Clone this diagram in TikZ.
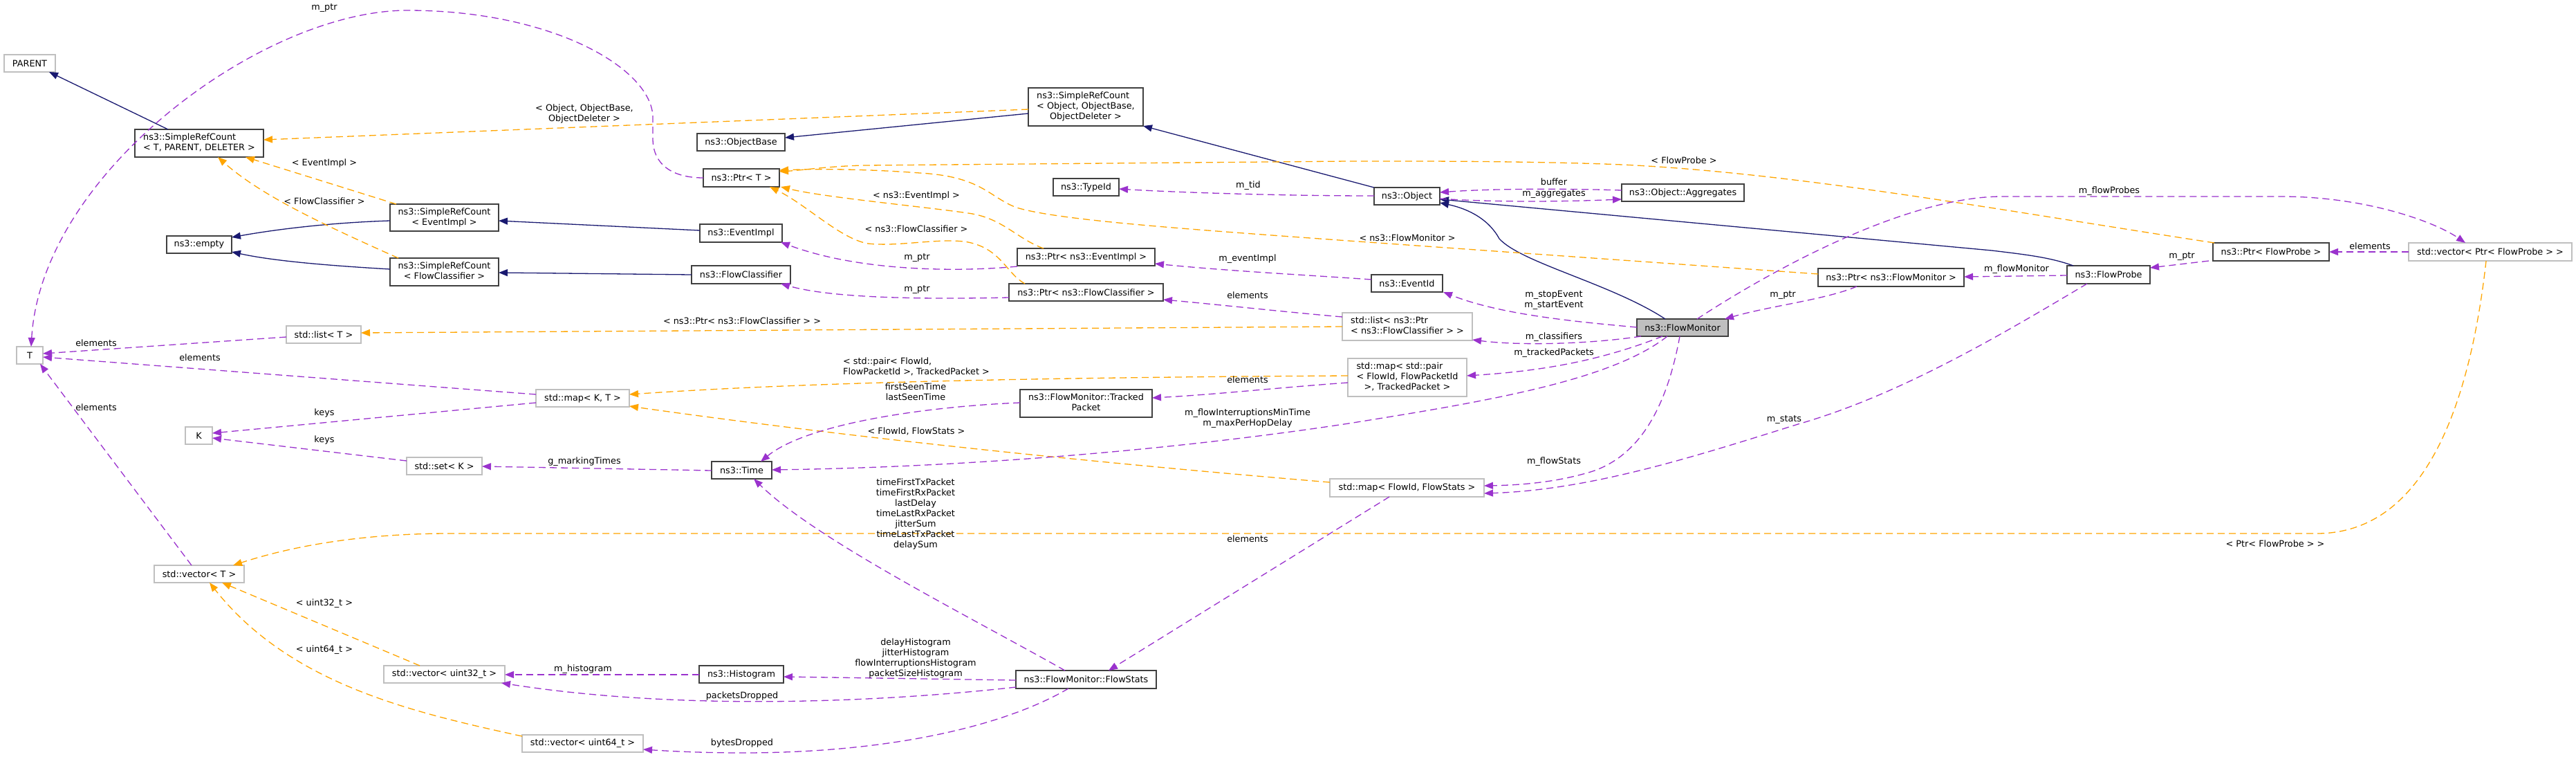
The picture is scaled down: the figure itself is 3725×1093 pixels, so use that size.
\documentclass[tikz,border=0pt]{standalone}
\usepackage{fontspec}
\setmainfont{DejaVu Sans}
\usetikzlibrary{arrows.meta,calc}
\definecolor{navy}{HTML}{191970}
\definecolor{orng}{HTML}{FFA500}
\definecolor{purp}{HTML}{9A32CD}
\definecolor{gbord}{HTML}{BFBFBF}
\definecolor{bbord}{HTML}{404040}
\definecolor{fmfill}{HTML}{BFBFBF}
\newcommand\twol[2]{\begin{tabular}{@{}l@{}}#1\\\multicolumn{1}{@{}c@{}}{#2}\end{tabular}}
\newcommand\threel[3]{\begin{tabular}{@{}l@{}}#1\\#2\\\multicolumn{1}{@{}c@{}}{#3}\end{tabular}}
\begin{document}
\begin{tikzpicture}[x=1pt,y=-1pt,
  every node/.style={font=\fontsize{12.8}{15}\selectfont, inner sep=0pt, outer sep=0pt},
  cls/.style={draw=bbord, line width=1.6pt, fill=white, rectangle, align=center},
  ext/.style={draw=gbord, line width=1.4pt, fill=white, rectangle, align=center},
  lbl/.style={align=center},
  tip/.style={-{Triangle[length=13pt,width=10pt]}},
  inh/.style={draw=navy, line width=1.3pt, tip, fill=none},
  tmpl/.style={draw=orng, line width=1.3pt, dash pattern=on 10pt off 6pt, tip},
  use/.style={draw=purp, line width=1.3pt, dash pattern=on 10pt off 6pt, tip},
]
\useasboundingbox (0,0) rectangle (3725,1093);

% ---------- nodes ----------
\node[ext, minimum width=74pt, minimum height=25pt] (PARENT) at (43,91.5) {PARENT};
\node[cls, minimum width=186pt, minimum height=40pt] (srcT) at (288,207) {\twol{ns3::SimpleRefCount}{< T, PARENT, DELETER >}};
\node[cls, minimum width=157pt, minimum height=39pt] (srcEI) at (642.5,314.5) {\twol{ns3::SimpleRefCount}{< EventImpl >}};
\node[cls, minimum width=94pt, minimum height=25pt] (empty) at (288,353.5) {ns3::empty};
\node[cls, minimum width=157pt, minimum height=40pt] (srcFC) at (642.5,393) {\twol{ns3::SimpleRefCount}{< FlowClassifier >}};
\node[ext, minimum width=38pt, minimum height=25pt] (T) at (43,513.5) {T};
\node[ext, minimum width=108pt, minimum height=25pt] (listT) at (468,483.5) {std::list< T >};
\node[ext, minimum width=39pt, minimum height=25pt] (K) at (287.5,629.5) {K};
\node[ext, minimum width=109pt, minimum height=25pt] (setK) at (642.5,673.5) {std::set< K >};
\node[ext, minimum width=130pt, minimum height=25pt] (vecT) at (288,829.5) {std::vector< T >};
\node[ext, minimum width=175pt, minimum height=25pt] (vec32) at (642.5,974.5) {std::vector< uint32\_t >};
\node[ext, minimum width=175pt, minimum height=25pt] (vec64) at (842.5,1074.5) {std::vector< uint64\_t >};
\node[cls, minimum width=127pt, minimum height=25pt] (ObjBase) at (1071.5,205.5) {ns3::ObjectBase};
\node[cls, minimum width=110pt, minimum height=26pt] (PtrT) at (1072,257) {ns3::Ptr< T >};
\node[cls, minimum width=119pt, minimum height=26pt] (EvImpl) at (1071.5,337) {ns3::EventImpl};
\node[cls, minimum width=143pt, minimum height=26pt] (FC) at (1071.5,397) {ns3::FlowClassifier};
\node[ext, minimum width=135pt, minimum height=25pt] (mapKT) at (842.5,575.5) {std::map< K, T >};
\node[cls, minimum width=87pt, minimum height=25pt] (Time) at (1072.5,679.5) {ns3::Time};
\node[cls, minimum width=122pt, minimum height=25pt] (Hist) at (1072,974.5) {ns3::Histogram};
\node[cls, minimum width=166pt, minimum height=55pt] (srcObj) at (1570,154.5) {\threel{ns3::SimpleRefCount}{< Object, ObjectBase,}{ObjectDeleter >}};
\node[cls, minimum width=95pt, minimum height=25pt] (TypeId) at (1570.5,270.5) {ns3::TypeId};
\node[cls, minimum width=199pt, minimum height=25pt] (PtrEI) at (1570.5,371.5) {ns3::Ptr< ns3::EventImpl >};
\node[cls, minimum width=223pt, minimum height=25pt] (PtrFC) at (1570.5,422.5) {ns3::Ptr< ns3::FlowClassifier >};
\node[cls, minimum width=191pt, minimum height=40pt] (TP) at (1570.5,583) {\twol{ns3::FlowMonitor::Tracked}{Packet}};
\node[cls, minimum width=203pt, minimum height=26pt] (FS) at (1570.5,982) {ns3::FlowMonitor::FlowStats};
\node[cls, minimum width=95pt, minimum height=25pt] (Obj) at (2034.5,283.5) {ns3::Object};
\node[cls, minimum width=177pt, minimum height=25pt] (Aggr) at (2433.5,278.5) {ns3::Object::Aggregates};
\node[cls, minimum width=103pt, minimum height=25pt] (EvId) at (2034.5,409.5) {ns3::EventId};
\node[ext, minimum width=188pt, minimum height=40pt] (listPFC) at (2035,472) {\twol{std::list< ns3::Ptr}{< ns3::FlowClassifier > >}};
\node[ext, minimum width=172pt, minimum height=55pt] (mapPair) at (2035,545.5) {\threel{std::map< std::pair}{< FlowId, FlowPacketId}{>, TrackedPacket >}};
\node[ext, minimum width=223pt, minimum height=26pt] (mapFS) at (2034.5,705) {std::map< FlowId, FlowStats >};
\node[cls, fill=fmfill, minimum width=132pt, minimum height=25pt] (FM) at (2433,473.5) {ns3::FlowMonitor};
\node[cls, minimum width=211pt, minimum height=26pt] (PtrFM) at (2734.5,401) {ns3::Ptr< ns3::FlowMonitor >};
\node[cls, minimum width=120pt, minimum height=26pt] (FP) at (3049,397) {ns3::FlowProbe};
\node[cls, minimum width=168pt, minimum height=26pt] (PtrFP) at (3284,364) {ns3::Ptr< FlowProbe >};
\node[ext, minimum width=236pt, minimum height=26pt] (vecPFP) at (3601,364) {std::vector< Ptr< FlowProbe > >};

% ---------- inheritance ----------
\draw[inh] (243,0 |- srcT.north) -- (71,0 |- PARENT.south);
\draw[inh] (srcEI.west |- 0,319) .. controls (470,322) and (390,333) .. (empty.east |- 0,343);
\draw[inh] (srcFC.west |- 0,389) .. controls (460,383) and (390,376) .. (empty.east |- 0,364);
\draw[inh] (EvImpl.west |- 0,333) -- (srcEI.east |- 0,319);
\draw[inh] (FC.west |- 0,397) -- (srcFC.east |- 0,394);
\draw[inh] (srcObj.west |- 0,164) -- (ObjBase.east |- 0,199);
\draw[inh] (Obj.north west) -- (srcObj.south east);
\draw[inh] (2408,0 |- FM.north) .. controls (2330,410) and (2200,380) .. (2168,345) .. controls (2150,312) and (2115,300) .. (Obj.east |- 0,293);
\draw[inh] (2998,0 |- FP.north) .. controls (2965,372) and (2930,368) .. (2880,362) -- (Obj.east |- 0,288);

% ---------- template instances ----------
\draw[tmpl] (srcObj.west |- 0,158) -- (srcT.east |- 0,202);
\draw[tmpl] (573,0 |- srcEI.north) -- (355,0 |- srcT.south);
\draw[tmpl] (576,0 |- srcFC.north) .. controls (480,330) and (380,285) .. (315,0 |- srcT.south);
\draw[tmpl] (1509,0 |- PtrEI.north) .. controls (1470,345) and (1450,315) .. (1400,308) .. controls (1330,298) and (1190,285) .. (1129,0 |- PtrT.south);
\draw[tmpl] (1482,0 |- PtrFC.north) .. controls (1455,395) and (1448,360) .. (1400,350) .. controls (1360,343) and (1300,357) .. (1255,352) .. controls (1215,345) and (1165,295) .. (1113,0 |- PtrT.south);
\draw[tmpl] (PtrFM.west |- 0,396) -- (1950,348) .. controls (1700,330) and (1530,318) .. (1470,300) .. controls (1430,285) and (1420,255) .. (1330,250) .. controls (1250,244) and (1180,244) .. (PtrT.east |- 0,246);
\draw[tmpl] (3202,0 |- PtrFP.north) .. controls (2900,305) and (2600,250) .. (2346,238) .. controls (2200,232) and (2000,233) .. (1950,233) -- (1250,239) .. controls (1200,240) and (1160,246) .. (PtrT.east |- 0,248);
\draw[tmpl] (listPFC.west |- 0,472) -- (listT.east |- 0,481);
\draw[tmpl] (mapPair.west |- 0,543) .. controls (1600,545) and (1200,550) .. (mapKT.east |- 0,570);
\draw[tmpl] (mapFS.west |- 0,697) .. controls (1600,670) and (1250,635) .. (mapKT.east |- 0,587);
\draw[tmpl] (607,0 |- vec32.north) -- (321,0 |- vecT.south);
\draw[tmpl] (vec64.west |- 0,1064) .. controls (600,1030) and (420,990) .. (303,0 |- vecT.south);
\draw[tmpl] (3595,0 |- vecPFP.south) .. controls (3570,600) and (3500,771) .. (3350,771) -- (650,771) .. controls (520,771) and (420,790) .. (337,0 |- vecT.north);

% ---------- usage ----------
\draw[use] (PtrT.west) .. controls (975,257) and (944,240) .. (944,200) -- (944,170) .. controls (944,100) and (800,15) .. (589,15) .. controls (380,15) and (60,250) .. (45,0 |- T.north);
\draw[use] (listT.west |- 0,487) -- (T.east |- 0,511);
\draw[use] (mapKT.west |- 0,570) -- (T.east |- 0,516);
\draw[use] (277,0 |- vecT.north) -- (58,0 |- T.south);
\draw[use] (mapKT.west |- 0,582) -- (K.east |- 0,626);
\draw[use] (setK.west |- 0,666) -- (K.east |- 0,633);
\draw[use] (Time.west |- 0,680) -- (setK.east |- 0,674);
\draw[use] (PtrEI.west |- 0,385) .. controls (1400,392) and (1250,395) .. (1129,0 |- EvImpl.south);
\draw[use] (PtrFC.west |- 0,430) .. controls (1320,433) and (1200,430) .. (1129,0 |- FC.south);
\draw[use] (TP.west |- 0,582) .. controls (1350,587) and (1170,610) .. (1100,0 |- Time.north);
\draw[use] (2411,0 |- FM.south) .. controls (2330,550) and (2150,580) .. (1950,612) .. controls (1700,650) and (1400,675) .. (Time.east |- 0,679);
\draw[use] (1540,0 |- FS.north) .. controls (1400,890) and (1180,780) .. (1090,0 |- Time.south);
\draw[use] (FS.west |- 0,983) -- (Hist.east |- 0,978);
\draw[use] (FS.west |- 0,993) .. controls (1300,1012) and (1000,1030) .. (725,0 |- vec32.south);
\draw[use] (1545,0 |- FS.south) .. controls (1460,1045) and (1300,1088) .. (1073,1088) .. controls (1010,1088) and (960,1085) .. (vec64.east |- 0,1083);
\draw[use] (Hist.west |- 0,975) -- (vec32.east |- 0,975);
\draw[use] (Obj.west |- 0,283) .. controls (1850,283) and (1700,278) .. (TypeId.east |- 0,273);
\draw[use] (Aggr.west |- 0,275) .. controls (2250,272) and (2150,273) .. (Obj.east |- 0,278);
\draw[use] (Obj.east |- 0,287) .. controls (2150,292) and (2250,292) .. (Aggr.west |- 0,288);
\draw[use] (EvId.west |- 0,404) .. controls (1900,398) and (1780,392) .. (PtrEI.east |- 0,381);
\draw[use] (listPFC.west |- 0,458) .. controls (1850,450) and (1760,440) .. (PtrFC.east |- 0,433);
\draw[use] (mapPair.west |- 0,553) .. controls (1850,560) and (1760,570) .. (TP.east |- 0,575);
\draw[use] (FM.west |- 0,473) .. controls (2280,465) and (2170,455) .. (2087,0 |- EvId.south);
\draw[use] (2373,0 |- FM.south) .. controls (2300,497) and (2200,500) .. (listPFC.east |- 0,491);
\draw[use] (2404,0 |- FM.south) .. controls (2330,515) and (2250,535) .. (mapPair.east |- 0,543);
\draw[use] (2429,0 |- FM.south) .. controls (2410,590) and (2370,660) .. (2300,682) .. controls (2250,697) and (2200,701) .. (mapFS.east |- 0,702);
\draw[use] (3018,0 |- FP.south) .. controls (2900,480) and (2750,570) .. (2600,613) .. controls (2450,660) and (2300,708) .. (mapFS.east |- 0,713);
\draw[use] (2009,0 |- mapFS.south) -- (1603,0 |- FS.north);
\draw[use] (2685,0 |- PtrFM.south) .. controls (2640,433) and (2560,442) .. (2494,0 |- FM.north);
\draw[use] (FP.west |- 0,398) -- (PtrFM.east |- 0,400);
\draw[use] (3194,0 |- PtrFP.south) -- (FP.east |- 0,387);
\draw[use] (vecPFP.west) -- (PtrFP.east);
\draw[use] (2454,0 |- FM.north) .. controls (2570,385) and (2760,284) .. (2895,284) -- (3299,284) .. controls (3420,284) and (3520,320) .. (3565,0 |- vecPFP.north);

% ---------- labels ----------
\node[lbl] (l1) at (469,12) {m\_ptr};
\node[lbl] (l2) at (845,164.5) {< Object, ObjectBase,\\ObjectDeleter >};
\node[lbl] (l3) at (469,236) {< EventImpl >};
\node[lbl] (l4) at (469,291) {< FlowClassifier >};
\node[lbl] (l5) at (139,496) {elements};
\node[lbl] (l6) at (289,517) {elements};
\node[lbl] (l7) at (139,589) {elements};
\node[lbl] (l8) at (469,597) {keys};
\node[lbl] (l9) at (469,636) {keys};
\node[lbl] (l10) at (469,872) {< uint32\_t >};
\node[lbl] (l11) at (469,939) {< uint64\_t >};
\node[lbl] (l12) at (1073,464) {< ns3::Ptr< ns3::FlowClassifier > >};
\node[lbl] (l13) at (845,667) {g\_markingTimes};
\node[lbl] (l14) at (843,967) {m\_histogram};
\node[lbl] (l15) at (1073,1006) {packetsDropped};
\node[lbl] (l16) at (1073,1074) {bytesDropped};
\node[lbl] (l17) at (1325,283) {< ns3::EventImpl >};
\node[lbl] (l18) at (1325,331) {< ns3::FlowClassifier >};
\node[lbl] (l19) at (1326,373) {m\_ptr};
\node[lbl] (l20) at (1326,419) {m\_ptr};
\node[lbl, align=left] (l21) at (1325,530) {< std::pair< FlowId,\\FlowPacketId >, TrackedPacket >};
\node[lbl] (l22) at (1324,566.5) {firstSeenTime\\lastSeenTime};
\node[lbl] (l23) at (1325,623) {< FlowId, FlowStats >};
\node[lbl] (l24) at (1324,742.5) {timeFirstTxPacket\\timeFirstRxPacket\\lastDelay\\timeLastRxPacket\\jitterSum\\timeLastTxPacket\\delaySum};
\node[lbl] (l25) at (1324,951) {delayHistogram\\jitterHistogram\\flowInterruptionsHistogram\\packetSizeHistogram};
\node[lbl] (l26) at (1805,268) {m\_tid};
\node[lbl] (l27) at (1804,374) {m\_eventImpl};
\node[lbl] (l28) at (1804,427) {elements};
\node[lbl] (l29) at (1804,549) {elements};
\node[lbl] (l30) at (1804,604.5) {m\_flowInterruptionsMinTime\\m\_maxPerHopDelay};
\node[lbl] (l31) at (1804,779) {elements};
\node[lbl] (l32) at (2247,263) {buffer};
\node[lbl] (l33) at (2247,281) {m\_aggregates};
\node[lbl] (l34) at (2435,232) {< FlowProbe >};
\node[lbl] (l35) at (2035,344) {< ns3::FlowMonitor >};
\node[lbl] (l36) at (2247,434) {m\_stopEvent\\m\_startEvent};
\node[lbl] (l37) at (2247,487) {m\_classifiers};
\node[lbl] (l38) at (2247,510) {m\_trackedPackets};
\node[lbl] (l39) at (2247,667) {m\_flowStats};
\node[lbl] (l40) at (2578,427) {m\_ptr};
\node[lbl] (l41) at (2580,607) {m\_stats};
\node[lbl] (l42) at (3050,276) {m\_flowProbes};
\node[lbl] (l43) at (3427,356) {elements};
\node[lbl] (l44) at (3155,371) {m\_ptr};
\node[lbl] (l45) at (2916,389) {m\_flowMonitor};
\node[lbl] (l46) at (3290,786) {< Ptr< FlowProbe > >};
\end{tikzpicture}
\end{document}
